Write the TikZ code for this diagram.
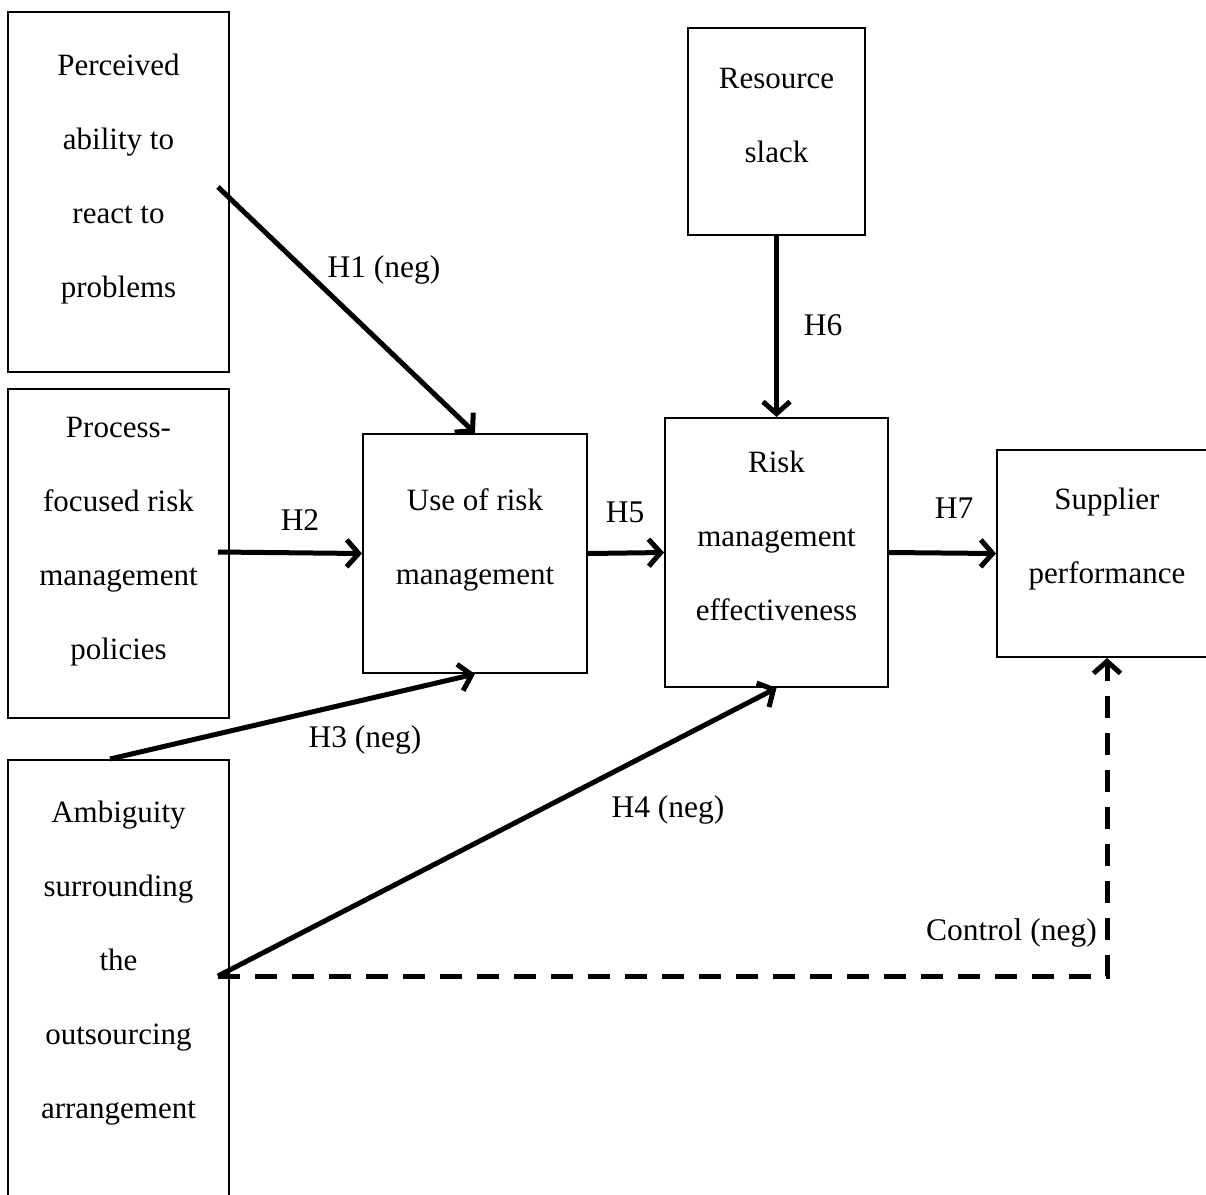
\documentclass[tikz,border=0pt]{standalone}
\usepackage{fontspec}
\setmainfont{Liberation Serif}
\usetikzlibrary{arrows.meta}
\begin{document}
\begin{tikzpicture}[x=1pt,y=-1pt,
  box/.style={draw, line width=2pt, inner sep=0pt},
  txt/.style={inner sep=0pt, align=center, font=\fontsize{31}{74}\selectfont},
  lbl/.style={inner sep=0pt, font=\fontsize{31.5}{36}\selectfont},
  arr/.style={line width=5pt, -{Straight Barb[length=12pt,width=27pt]}},
  ctrl/.style={line width=5pt, dash pattern=on 22pt off 15pt, -{Straight Barb[length=12pt,width=27pt]}}]
\useasboundingbox (0,0) rectangle (1206,1194);
\begin{scope}
\clip (0,0) rectangle (1206,1194);
\node[box, minimum width=221pt, minimum height=360pt] (b1) at (118.5,192) {};
\node[box, minimum width=221pt, minimum height=329pt] (b2) at (118.5,553.5) {};
\node[box, minimum width=221pt, minimum height=480pt, anchor=north] (b3) at (118.5,759) {};
\node[box, minimum width=224pt, minimum height=239pt] (b4) at (475,553.5) {};
\node[box, minimum width=177pt, minimum height=207pt] (b5) at (776.5,131.5) {};
\node[box, minimum width=223pt, minimum height=269pt] (b6) at (776.5,552.5) {};
\node[box, minimum width=220pt, minimum height=207pt] (b7) at (1107,553.5) {};

\node[txt] (b1t) at ([yshift=13pt]b1.center) {Perceived\\ability to\\react to\\problems};
\node[txt] (b2t) at ([yshift=12pt]b2.center) {Process-\\focused risk\\management\\policies};
\node[txt] (b3t) at (118.5,963) {Ambiguity\\surrounding\\the\\outsourcing\\arrangement};
\node[txt] (b4t) at ([yshift=14pt]b4.center) {Use of risk\\management};
\node[txt] (b5t) at ([yshift=16pt]b5.center) {Resource\\slack};
\node[txt] (b6t) at ([yshift=17pt]b6.center) {Risk\\management\\effectiveness};
\node[txt] (b7t) at ([yshift=14pt]b7.center) {Supplier\\performance};

\coordinate (s1) at (218,187);
\coordinate (s2) at (218,552);
\coordinate (s3) at (110,759);
\coordinate (s4) at (218,976);

\draw[arr] (s1) -- (b4.north);
\draw[arr] (s2) -- (b4.west);
\draw[arr] (s3) -- (b4.south);
\draw[arr] (s4) -- (b6.south);
\draw[arr] (b4.east) -- (b6.west);
\draw[arr] (b5.south) -- (b6.north);
\draw[arr] (b6.east) -- (b7.west);
\draw[ctrl] (s4) -- (b7.south |- s4) -- (b7.south);

\node[lbl] (l1) at (384,270) {H1 (neg)};
\node[lbl] (l2) at (300,520) {H2};
\node[lbl] (l3) at (365,740) {H3 (neg)};
\node[lbl] (l4) at (668,810) {H4 (neg)};
\node[lbl] (l5) at (625,512) {H5};
\node[lbl] (l6) at (823,325) {H6};
\node[lbl] (l7) at (954,508) {H7};
\node[lbl, anchor=east] (l8) at (1097,933) {Control (neg)};
\end{scope}
\end{tikzpicture}
\end{document}
